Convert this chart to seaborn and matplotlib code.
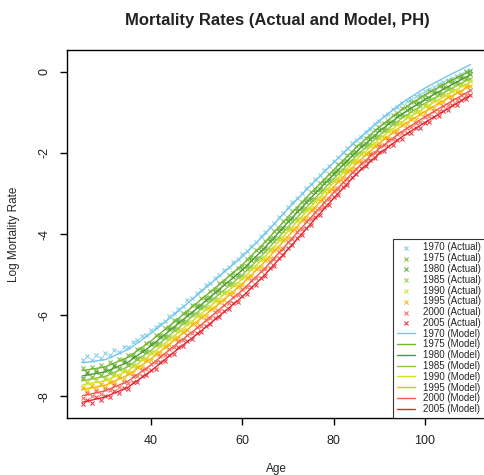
import matplotlib
matplotlib.use("Agg")
import matplotlib.pyplot as plt
import seaborn as sns
import numpy as np
import pandas as pd

# ---------------- data ----------------
years = [1970, 1975, 1980, 1985, 1990, 1995, 2000, 2005]
colors = ["#74c7e6", "#6fb52c", "#4c9e2a", "#8cc63f",
          "#d4e021", "#f7b500", "#f25a4a", "#e3262e"]

ages_actual = list(range(25, 111))
ages_model = list(range(25, 111, 5))

actual_1970 = [-7.10, -7.02, -7.12, -6.98, -7.05, -6.94, -6.99, -6.86, -6.90, -6.78,
               -6.80, -6.66, -6.62, -6.52, -6.48, -6.38, -6.30, -6.22, -6.14, -6.02,
               -5.95, -5.84, -5.78, -5.64, -5.58, -5.46, -5.38, -5.27, -5.20, -5.08,
               -5.00, -4.88, -4.82, -4.70, -4.62, -4.50, -4.42, -4.29, -4.19, -4.06,
               -3.96, -3.83, -3.72, -3.58, -3.47, -3.33, -3.22, -3.10, -3.00, -2.87,
               -2.77, -2.64, -2.55, -2.42, -2.32, -2.20, -2.10, -1.98, -1.88, -1.76,
               -1.68, -1.61, -1.48, -1.41, -1.28, -1.21, -1.09, -1.03, -0.92, -0.86,
               -0.76, -0.72, -0.66, -0.60, -0.55, -0.48, -0.42, -0.37, -0.30, -0.26,
               -0.19, -0.14, -0.09, -0.04, 0.01, 0.05]
actual_1975 = [-7.31, -7.40, -7.27, -7.36, -7.22, -7.30, -7.17, -7.22, -7.08, -7.12,
               -6.98, -6.99, -6.83, -6.84, -6.70, -6.68, -6.50, -6.49, -6.31, -6.30,
               -6.13, -6.12, -5.95, -5.93, -5.76, -5.74, -5.59, -5.55, -5.40, -5.35,
               -5.21, -5.17, -5.02, -4.97, -4.83, -4.79, -4.62, -4.56, -4.39, -4.33,
               -4.17, -4.10, -3.93, -3.85, -3.68, -3.60, -3.44, -3.36, -3.20, -3.13,
               -2.97, -2.89, -2.74, -2.67, -2.51, -2.44, -2.28, -2.21, -2.05, -1.98,
               -1.83, -1.77, -1.64, -1.58, -1.43, -1.37, -1.25, -1.20, -1.07, -1.02,
               -0.88, -0.85, -0.74, -0.72, -0.61, -0.58, -0.48, -0.46, -0.35, -0.33,
               -0.23, -0.21, -0.12, -0.10, 0.00, 0.02]
actual_1980 = [-7.56, -7.44, -7.52, -7.40, -7.47, -7.36, -7.39, -7.26, -7.30, -7.17,
               -7.20, -7.04, -7.05, -6.88, -6.89, -6.72, -6.70, -6.54, -6.51, -6.35,
               -6.33, -6.18, -6.15, -5.99, -5.96, -5.81, -5.77, -5.62, -5.58, -5.43,
               -5.39, -5.24, -5.20, -5.05, -5.01, -4.86, -4.80, -4.64, -4.58, -4.41,
               -4.35, -4.18, -4.10, -3.93, -3.85, -3.68, -3.61, -3.44, -3.37, -3.21,
               -3.13, -2.97, -2.90, -2.74, -2.67, -2.51, -2.43, -2.28, -2.20, -2.05,
               -1.98, -1.84, -1.79, -1.65, -1.58, -1.44, -1.40, -1.27, -1.23, -1.10,
               -1.04, -0.93, -0.90, -0.80, -0.77, -0.66, -0.64, -0.53, -0.51, -0.40,
               -0.38, -0.28, -0.26, -0.16, -0.14, -0.05]
actual_1985 = [-7.58, -7.66, -7.54, -7.60, -7.49, -7.55, -7.42, -7.45, -7.33, -7.36,
               -7.23, -7.22, -7.08, -7.06, -6.91, -6.90, -6.75, -6.72, -6.56, -6.53,
               -6.38, -6.35, -6.20, -6.16, -6.01, -5.98, -5.83, -5.79, -5.64, -5.60,
               -5.45, -5.42, -5.26, -5.23, -5.07, -5.04, -4.87, -4.82, -4.64, -4.59,
               -4.42, -4.36, -4.17, -4.11, -3.92, -3.86, -3.68, -3.62, -3.44, -3.38,
               -3.20, -3.14, -2.97, -2.91, -2.73, -2.67, -2.49, -2.43, -2.26, -2.20,
               -2.03, -1.99, -1.85, -1.80, -1.64, -1.60, -1.46, -1.43, -1.29, -1.26,
               -1.10, -1.09, -0.96, -0.95, -0.83, -0.82, -0.70, -0.68, -0.56, -0.55,
               -0.43, -0.42, -0.31, -0.29, -0.18, -0.17]
actual_1990 = [-7.78, -7.66, -7.73, -7.61, -7.69, -7.58, -7.61, -7.48, -7.51, -7.38,
               -7.41, -7.25, -7.25, -7.09, -7.08, -6.93, -6.91, -6.76, -6.73, -6.58,
               -6.55, -6.40, -6.37, -6.21, -6.18, -6.03, -6.00, -5.84, -5.81, -5.65,
               -5.62, -5.46, -5.43, -5.27, -5.24, -5.08, -5.03, -4.86, -4.81, -4.64,
               -4.59, -4.41, -4.34, -4.16, -4.09, -3.91, -3.85, -3.67, -3.60, -3.42,
               -3.36, -3.18, -3.12, -2.94, -2.88, -2.70, -2.64, -2.46, -2.41, -2.23,
               -2.18, -2.02, -2.00, -1.83, -1.79, -1.63, -1.61, -1.46, -1.44, -1.29,
               -1.25, -1.12, -1.11, -0.99, -0.98, -0.85, -0.84, -0.72, -0.71, -0.59,
               -0.58, -0.46, -0.46, -0.33, -0.33, -0.22]
actual_1995 = [-7.80, -7.88, -7.76, -7.82, -7.71, -7.77, -7.64, -7.67, -7.54, -7.57,
               -7.44, -7.43, -7.28, -7.27, -7.12, -7.11, -6.96, -6.93, -6.78, -6.75,
               -6.60, -6.57, -6.42, -6.38, -6.23, -6.20, -6.05, -6.02, -5.86, -5.83,
               -5.68, -5.64, -5.49, -5.45, -5.30, -5.26, -5.09, -5.04, -4.87, -4.82,
               -4.65, -4.59, -4.40, -4.34, -4.15, -4.09, -3.91, -3.85, -3.66, -3.60,
               -3.42, -3.36, -3.18, -3.11, -2.93, -2.87, -2.69, -2.63, -2.45, -2.39,
               -2.22, -2.19, -2.03, -1.99, -1.82, -1.78, -1.64, -1.62, -1.48, -1.45,
               -1.30, -1.29, -1.16, -1.16, -1.03, -1.02, -0.89, -0.88, -0.76, -0.75,
               -0.62, -0.62, -0.49, -0.49, -0.36, -0.35]
actual_2000 = [-8.05, -7.93, -7.99, -7.88, -7.94, -7.83, -7.86, -7.73, -7.77, -7.64,
               -7.67, -7.51, -7.51, -7.35, -7.34, -7.20, -7.17, -7.02, -6.98, -6.83,
               -6.80, -6.65, -6.62, -6.48, -6.45, -6.30, -6.27, -6.11, -6.08, -5.92,
               -5.89, -5.74, -5.70, -5.55, -5.51, -5.36, -5.31, -5.14, -5.09, -4.92,
               -4.87, -4.69, -4.62, -4.44, -4.37, -4.19, -4.13, -3.94, -3.88, -3.69,
               -3.63, -3.45, -3.38, -3.20, -3.13, -2.95, -2.89, -2.71, -2.64, -2.46,
               -2.40, -2.24, -2.20, -2.03, -1.99, -1.83, -1.81, -1.68, -1.66, -1.53,
               -1.51, -1.38, -1.37, -1.25, -1.24, -1.11, -1.10, -0.97, -0.96, -0.83,
               -0.82, -0.69, -0.69, -0.56, -0.56, -0.44]
actual_2005 = [-8.20, -8.09, -8.16, -8.03, -8.10, -7.99, -8.02, -7.88, -7.92, -7.79,
               -7.82, -7.66, -7.66, -7.50, -7.49, -7.35, -7.32, -7.17, -7.13, -6.98,
               -6.95, -6.80, -6.77, -6.63, -6.60, -6.45, -6.42, -6.27, -6.23, -6.08,
               -6.05, -5.90, -5.86, -5.71, -5.67, -5.52, -5.47, -5.30, -5.25, -5.08,
               -5.03, -4.85, -4.78, -4.60, -4.53, -4.35, -4.28, -4.10, -4.03, -3.85,
               -3.78, -3.59, -3.53, -3.34, -3.28, -3.09, -3.03, -2.84, -2.78, -2.59,
               -2.53, -2.37, -2.33, -2.17, -2.13, -1.97, -1.95, -1.82, -1.80, -1.67,
               -1.65, -1.52, -1.51, -1.39, -1.38, -1.25, -1.24, -1.11, -1.09, -0.96,
               -0.95, -0.82, -0.81, -0.69, -0.68, -0.56]

model_1970 = [-7.18, -7.10, -6.85, -6.45, -6.00, -5.52, -5.04, -4.56, -4.00,
              -3.38, -2.80, -2.24, -1.70, -1.20, -0.76, -0.40, -0.10, 0.18]
model_1975 = [-7.37, -7.28, -7.04, -6.64, -6.18, -5.71, -5.24, -4.76, -4.20,
              -3.58, -2.99, -2.42, -1.86, -1.36, -0.93, -0.57, -0.26, 0.03]
model_1980 = [-7.50, -7.40, -7.16, -6.76, -6.30, -5.84, -5.36, -4.89, -4.33,
              -3.71, -3.11, -2.53, -1.97, -1.47, -1.04, -0.68, -0.37, -0.07]
model_1985 = [-7.62, -7.51, -7.27, -6.87, -6.41, -5.95, -5.48, -5.01, -4.45,
              -3.83, -3.23, -2.64, -2.07, -1.57, -1.14, -0.78, -0.46, -0.16]
model_1990 = [-7.72, -7.62, -7.37, -6.97, -6.52, -6.06, -5.59, -5.11, -4.56,
              -3.94, -3.33, -2.73, -2.16, -1.66, -1.23, -0.88, -0.55, -0.25]
model_1995 = [-7.84, -7.73, -7.48, -7.08, -6.63, -6.17, -5.71, -5.23, -4.68,
              -4.06, -3.45, -2.84, -2.26, -1.76, -1.33, -0.98, -0.65, -0.34]
model_2000 = [-7.99, -7.87, -7.63, -7.23, -6.77, -6.33, -5.86, -5.39, -4.84,
              -4.22, -3.60, -2.98, -2.39, -1.89, -1.47, -1.11, -0.78, -0.46]
model_2005 = [-8.15, -8.02, -7.78, -7.38, -6.92, -6.48, -6.02, -5.55, -5.00,
              -4.38, -3.75, -3.12, -2.52, -2.02, -1.60, -1.25, -0.91, -0.58]

actual = [actual_1970, actual_1975, actual_1980, actual_1985,
          actual_1990, actual_1995, actual_2000, actual_2005]
model = [model_1970, model_1975, model_1980, model_1985,
         model_1990, model_1995, model_2000, model_2005]

x_ticks = [40, 60, 80, 100]
y_ticks = [0, -2, -4, -6, -8]

# ---------------- plot ----------------
sns.set_style("ticks")
plt.rcParams["font.family"] = ["Liberation Sans", "DejaVu Sans"]

fig = plt.figure(figsize=(4.85, 4.75), dpi=100)
ax = fig.add_axes([67 / 485, 1 - 418 / 475, (486 - 67) / 485, (418 - 50) / 475])

for yr, c, vals in zip(years, colors, actual):
    sns.scatterplot(x=ages_actual, y=vals, ax=ax, color=c, marker="x", s=9,
                    linewidth=0.8, alpha=0.85, label=f"{yr} (Actual)")
for yr, c, vals in zip(years, colors, model):
    sns.lineplot(x=ages_model, y=vals, ax=ax, color=c, linewidth=1.0,
                 label=f"{yr} (Model)")

ax.set_xlim(21.6, 113.4)
ax.set_ylim(-8.54, 0.54)
ax.set_xticks(x_ticks)
ax.set_yticks(y_ticks)
ax.set_yticklabels([str(v) for v in y_ticks], rotation=90, va="center")
ax.tick_params(axis="both", length=5, width=1, color="black", pad=7,
               labelsize=9, labelcolor="#222222")
for sp in ax.spines.values():
    sp.set_visible(True)
    sp.set_color("black")
    sp.set_linewidth(1.0)

ax.set_xlabel("Age", fontsize=8.5, labelpad=12)
ax.set_ylabel("Log Mortality Rate", fontsize=8.5, labelpad=13)
fig.text(277 / 485, 1 - 21 / 475, "Mortality Rates (Actual and Model, PH)",
         ha="center", va="center", fontsize=12, fontweight="bold", color="#222222")

leg = ax.legend(loc="lower left", bbox_to_anchor=((393 - 67) / 419, 0.0),
                fontsize=7, frameon=True, fancybox=False,
                edgecolor="black", borderaxespad=0, labelspacing=0.08,
                handlelength=1.85, handletextpad=0.8, borderpad=0.4,
                scatterpoints=1, markerscale=1.0)
leg.get_frame().set_linewidth(0.8)

fig.savefig("out.png", dpi=100)
